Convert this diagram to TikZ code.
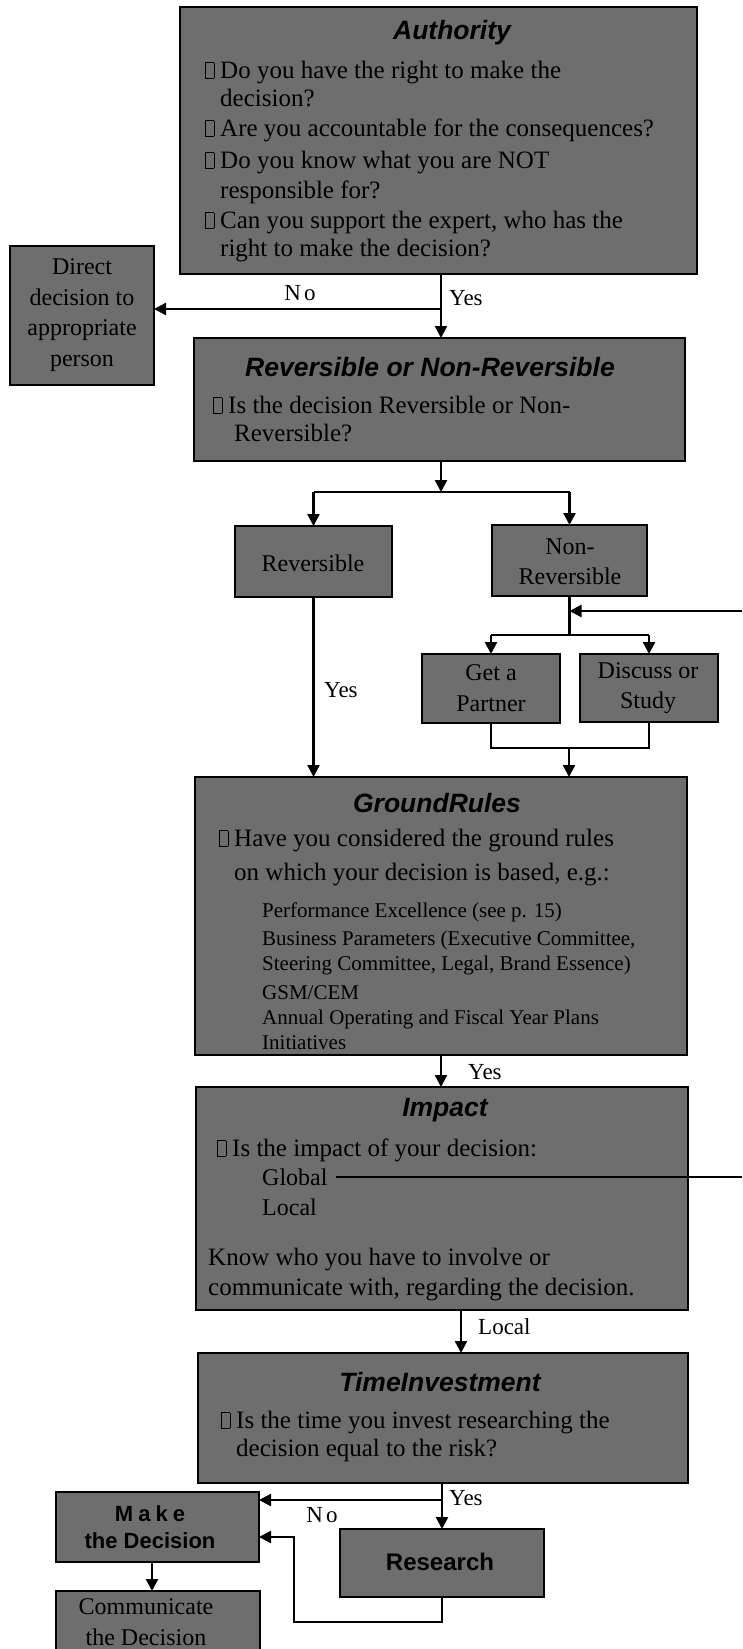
\documentclass[tikz,border=0pt]{standalone}
\usepackage{fontspec}
\setmainfont{Liberation Serif}
\newfontfamily\sansf{Liberation Sans}
\usetikzlibrary{arrows.meta}
\definecolor{boxgray}{gray}{0.43}
\newcommand{\qbox}{\llap{{\setlength{\fboxsep}{0pt}\setlength{\fboxrule}{0.7pt}\fbox{\rule{0pt}{15pt}\hspace{8pt}}}\hspace{6pt}}}
\tikzset{
  box/.style={draw=black, line width=2.7pt, fill=boxgray, anchor=north west, inner sep=0pt, outer sep=0pt},
  ln/.style={line width=2.4pt},
  conn/.style={line width=2.4pt, -{Triangle[length=12pt,width=12pt]}},
  txt/.style={anchor=base west, inner sep=0pt, font=\fontsize{25}{30}\selectfont},
  subtxt/.style={anchor=base west, inner sep=0pt, font=\fontsize{21}{26}\selectfont},
  ttl/.style={inner sep=0pt, font=\sansf\bfseries\itshape\fontsize{26.5}{30}\selectfont},
  lbl/.style={inner sep=0pt, font=\fontsize{23}{26}\selectfont},
  ctext/.style={align=center, inner sep=0pt, font=\fontsize{24}{30.5}\selectfont},
  btext/.style={align=center, inner sep=0pt, font=\sansf\bfseries\fontsize{22}{27}\selectfont}
}
\begin{document}
\begin{tikzpicture}[x=1pt,y=-1pt]
\useasboundingbox (0,0) rectangle (742,1649);
\fill[white] (0,0) rectangle (742,1649);

% ---------- boxes ----------
\node[box, minimum width=517pt, minimum height=267pt] (auth) at (180,7) {};
\node[box, minimum width=144pt, minimum height=139pt] (direct) at (10,246) {};
\node[box, minimum width=491pt, minimum height=123pt] (rev) at (194,338) {};
\node[box, minimum width=157pt, minimum height=71pt] (revs) at (235,526) {};
\node[box, minimum width=155pt, minimum height=71pt] (nonrev) at (492,525) {};
\node[box, minimum width=138pt, minimum height=69pt] (partner) at (422,654) {};
\node[box, minimum width=138pt, minimum height=68pt] (discuss) at (580,654) {};
\node[box, minimum width=492pt, minimum height=278pt] (ground) at (195,777) {};
\node[box, minimum width=492pt, minimum height=223pt] (impact) at (196,1087) {};
\node[box, minimum width=490pt, minimum height=130pt] (time) at (198,1353) {};
\node[box, minimum width=203pt, minimum height=70pt] (make) at (56,1492) {};
\node[box, minimum width=204pt, minimum height=68pt] (research) at (340,1529) {};
\node[box, minimum width=204pt, minimum height=80pt] (comm) at (56,1591) {};

% ---------- Authority ----------
\node[ttl] (authT) at (452,33) {Authority};
\node[txt] (a1) at (220,78) {\qbox Do you have the right to make the};
\node[txt] (a2) at (220,106) {decision?};
\node[txt] (a3) at (220,136) {\qbox Are you accountable for the consequences?};
\node[txt] (a4) at (220,168) {\qbox Do you know what you are NOT};
\node[txt] (a5) at (220,198) {responsible for?};
\node[txt] (a6) at (220,228) {\qbox Can you support the expert, who has the};
\node[txt] (a7) at (220,256) {right to make the decision?};

\node[ctext] (directT) at (82,315) {Direct\\decision to\\appropriate\\person};

% ---------- Reversible or Non-Reversible ----------
\node[ttl] (revT) at (430,367) {Reversible or Non-Reversible};
\node[txt] (r1) at (228,413) {\qbox Is the decision Reversible or Non-};
\node[txt] (r2) at (234,441) {Reversible?};

\node[ctext] (revsT) at (313,563) {Reversible};
\node[ctext] (nonrevT) at (570,562) {Non-\\Reversible};
\node[ctext] (partnerT) at (491,688) {Get a\\Partner};
\node[ctext] (discussT) at (648,688) {Discuss or\\Study};

% ---------- Ground Rules ----------
\node[ttl] (groundT) at (437,803) {GroundRules};
\node[txt] (g1) at (234,846) {\qbox Have you considered the ground rules};
\node[txt] (g2) at (234,880) {on which your decision is based, e.g.:};
\node[subtxt] (g3) at (262,917) {Performance Excellence (see p. 15)};
\node[subtxt] (g4) at (262,945) {Business Parameters (Executive Committee,};
\node[subtxt] (g5) at (262,970) {Steering Committee, Legal, Brand Essence)};
\node[subtxt] (g6) at (262,999) {GSM/CEM};
\node[subtxt] (g7) at (262,1024) {Annual Operating and Fiscal Year Plans};
\node[subtxt] (g8) at (262,1049) {Initiatives};

% ---------- Impact ----------
\node[ttl] (impactT) at (445,1110) {Impact};
\node[txt] (i1) at (232,1156) {\qbox Is the impact of your decision:};
\node[txt, font=\fontsize{24}{30}\selectfont] (glob) at (262,1185) {Global};
\node[txt, font=\fontsize{24}{30}\selectfont] (loc) at (262,1215) {Local};
\node[txt] (i4) at (208,1265) {Know who you have to involve or};
\node[txt] (i5) at (208,1295) {communicate with, regarding the decision.};

% ---------- Time Investment ----------
\node[ttl] (timeT) at (440,1382) {TimeInvestment};
\node[txt] (t1) at (236,1428) {\qbox Is the time you invest researching the};
\node[txt] (t2) at (236,1456) {decision equal to the risk?};

\node[btext] (makeT) at (150,1527) {M\kern5pt a\kern5pt k\kern5pt e\\the Decision};
\node[btext, font=\sansf\bfseries\fontsize{24}{28}\selectfont] (researchT) at (440,1562) {Research};
\node[ctext] (commT) at (146,1622) {Communicate\\the Decision};

% ---------- connectors ----------
\coordinate (noj) at (441,309);
\draw[conn] (noj |- auth.south) -- (noj |- rev.north);
\draw[conn] (noj) -- (noj -| direct.east);
\node[lbl] (lno) at (300,293) {N\kern3pt o};
\node[lbl, anchor=west] (lyes1) at (449,298) {Yes};

\coordinate (br1) at (441,492);
\draw[conn] (noj |- rev.south) -- (br1);
\draw[ln] (revs.north |- br1) -- (nonrev.north |- br1);
\draw[conn] (revs.north |- br1) -- (revs.north);
\draw[conn] (nonrev.north |- br1) -- (nonrev.north);

\coordinate (br2) at (569.5,635);
\draw[ln] (nonrev.south) -- (br2);
\draw[ln] (partner.north |- br2) -- (discuss.north |- br2);
\draw[conn] (partner.north |- br2) -- (partner.north);
\draw[conn] (discuss.north |- br2) -- (discuss.north);

\coordinate (rin) at (742,611);
\draw[conn] (rin) -- (rin -| nonrev.south);

\coordinate (mg) at (569,748);
\draw[ln] (partner.south) -- (partner.south |- mg) -- (discuss.south |- mg) -- (discuss.south);
\draw[conn] (mg) -- (mg |- ground.north);

\draw[conn] (revs.south) -- (revs.south |- ground.north);
\node[lbl, anchor=west] (lyes2) at (324,690) {Yes};

\draw[conn] (noj |- ground.south) -- (noj |- impact.north);
\node[lbl, anchor=west] (lyes3) at (468,1072) {Yes};

\draw[ln] ([xshift=8pt]glob.east) -- (glob.east -| rin);

\coordinate (lj) at (461,1330);
\draw[conn] (lj |- impact.south) -- (lj |- time.north);
\node[lbl, anchor=west] (llocal) at (478,1327) {Local};

\coordinate (tj) at (442,1500);
\draw[conn] (tj |- time.south) -- (tj |- research.north);
\draw[conn] (tj) -- (tj -| make.east);
\node[lbl, anchor=west] (lyes4) at (449,1498) {Yes};
\node[lbl] (lno2) at (322,1515) {N\kern3pt o};

\coordinate (rl) at (294,1622);
\coordinate (rl2) at (294,1537);
\draw[conn] (research.south) |- (rl) -- (rl2) -- (rl2 -| make.east);

\coordinate (mc) at (152,1570);
\draw[conn] (mc |- make.south) -- (mc |- comm.north);
\end{tikzpicture}
\end{document}
